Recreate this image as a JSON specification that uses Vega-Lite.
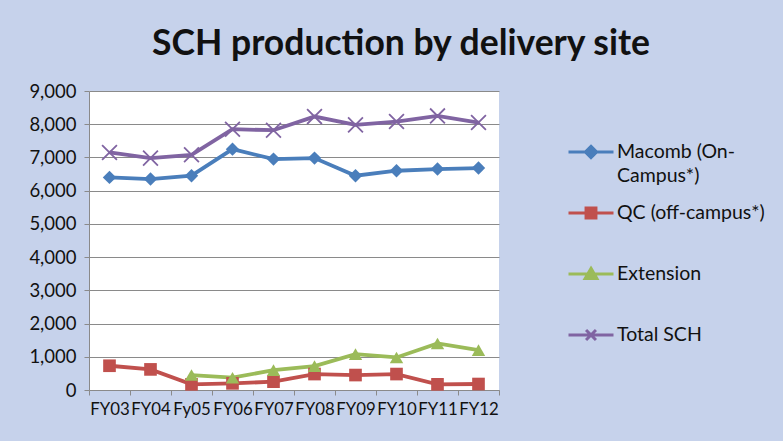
{
  "$schema": "https://vega.github.io/schema/vega-lite/v6.json",
  "width": 410,
  "height": 299,
  "autosize": {"type": "none"},
  "padding": {"left": 89, "top": 91, "right": 284, "bottom": 51},
  "background": "#c6d2eb",
  "config": {"view": {"fill": "white", "stroke": null}},
  "title": {"text": "SCH production by delivery site", "font": "Lato", "fontSize": 35.5, "fontWeight": "bold", "color": "#111111", "anchor": "middle", "dx": 107, "offset": 20},
  "data": {"values": [
    {"year": "FY03", "i": 1, "series": "Macomb (On-Campus*)", "value": 6400},
    {"year": "FY04", "i": 2, "series": "Macomb (On-Campus*)", "value": 6350},
    {"year": "Fy05", "i": 3, "series": "Macomb (On-Campus*)", "value": 6450},
    {"year": "FY06", "i": 4, "series": "Macomb (On-Campus*)", "value": 7250},
    {"year": "FY07", "i": 5, "series": "Macomb (On-Campus*)", "value": 6950},
    {"year": "FY08", "i": 6, "series": "Macomb (On-Campus*)", "value": 6980},
    {"year": "FY09", "i": 7, "series": "Macomb (On-Campus*)", "value": 6450},
    {"year": "FY10", "i": 8, "series": "Macomb (On-Campus*)", "value": 6600},
    {"year": "FY11", "i": 9, "series": "Macomb (On-Campus*)", "value": 6650},
    {"year": "FY12", "i": 10, "series": "Macomb (On-Campus*)", "value": 6680},
    {"year": "FY03", "i": 1, "series": "QC (off-campus*)", "value": 730},
    {"year": "FY04", "i": 2, "series": "QC (off-campus*)", "value": 620},
    {"year": "Fy05", "i": 3, "series": "QC (off-campus*)", "value": 170},
    {"year": "FY06", "i": 4, "series": "QC (off-campus*)", "value": 200},
    {"year": "FY07", "i": 5, "series": "QC (off-campus*)", "value": 250},
    {"year": "FY08", "i": 6, "series": "QC (off-campus*)", "value": 480},
    {"year": "FY09", "i": 7, "series": "QC (off-campus*)", "value": 450},
    {"year": "FY10", "i": 8, "series": "QC (off-campus*)", "value": 480},
    {"year": "FY11", "i": 9, "series": "QC (off-campus*)", "value": 170},
    {"year": "FY12", "i": 10, "series": "QC (off-campus*)", "value": 180},
    {"year": "Fy05", "i": 3, "series": "Extension", "value": 450},
    {"year": "FY06", "i": 4, "series": "Extension", "value": 370},
    {"year": "FY07", "i": 5, "series": "Extension", "value": 600},
    {"year": "FY08", "i": 6, "series": "Extension", "value": 720},
    {"year": "FY09", "i": 7, "series": "Extension", "value": 1080},
    {"year": "FY10", "i": 8, "series": "Extension", "value": 980},
    {"year": "FY11", "i": 9, "series": "Extension", "value": 1400},
    {"year": "FY12", "i": 10, "series": "Extension", "value": 1200},
    {"year": "FY03", "i": 1, "series": "Total SCH", "value": 7150},
    {"year": "FY04", "i": 2, "series": "Total SCH", "value": 6980},
    {"year": "Fy05", "i": 3, "series": "Total SCH", "value": 7080},
    {"year": "FY06", "i": 4, "series": "Total SCH", "value": 7850},
    {"year": "FY07", "i": 5, "series": "Total SCH", "value": 7820},
    {"year": "FY08", "i": 6, "series": "Total SCH", "value": 8230},
    {"year": "FY09", "i": 7, "series": "Total SCH", "value": 7980},
    {"year": "FY10", "i": 8, "series": "Total SCH", "value": 8080},
    {"year": "FY11", "i": 9, "series": "Total SCH", "value": 8250},
    {"year": "FY12", "i": 10, "series": "Total SCH", "value": 8050}
  ]},
  "encoding": {
    "x": {"field": "year", "type": "ordinal", "sort": ["FY03", "FY04", "Fy05", "FY06", "FY07", "FY08", "FY09", "FY10", "FY11", "FY12"],
      "scale": {"type": "band", "paddingInner": 0, "paddingOuter": 0},
      "axis": {"title": null, "labelAngle": 0, "tickBand": "extent", "grid": false, "labelOverlap": false, "labelBound": false, "labelFont": "Lato", "labelFontSize": 16.8, "labelColor": "#111111", "domainColor": "#8a8a8a", "tickColor": "#8a8a8a", "tickSize": 5, "labelPadding": 6}},
    "y": {"field": "value", "type": "quantitative",
      "scale": {"domain": [0, 9000], "nice": false},
      "axis": {"title": null, "values": [0, 1000, 2000, 3000, 4000, 5000, 6000, 7000, 8000, 9000], "format": ",.0f", "labelFont": "Lato", "labelFontSize": 18.5, "labelColor": "#111111", "gridColor": "#8a8a8a", "domainColor": "#8a8a8a", "tickColor": "#8a8a8a", "tickSize": 5, "labelPadding": 8}},
    "color": {"field": "series", "type": "nominal",
      "scale": {"domain": ["Macomb (On-Campus*)", "QC (off-campus*)", "Extension", "Total SCH"], "range": ["#4a7ebb", "#c0504d", "#9bbb59", "#8064a2"]},
      "legend": {"orient": "none", "legendX": 478, "legendY": 37, "title": null, "symbolSize": 2025, "symbolStrokeWidth": 3,
        "labelFont": "Lato", "labelFontSize": 19.5, "labelColor": "#111111", "labelOffset": 2, "labelLimit": 300, "rowPadding": 3,
        "labelExpr": "datum.label == 'Macomb (On-Campus*)' ? ['Macomb (On-', 'Campus*)'] : [datum.label, ' ']",
        "encode": {
          "labels": {"update": {"lineHeight": {"value": 24}}},
          "symbols": {"update": {
          "shape": {"signal": "datum.value == 'Macomb (On-Campus*)' ? 'M-1,0H1M0,-0.25L0.25,0L0,0.25L-0.25,0Z' : datum.value == 'QC (off-campus*)' ? 'M-1,0H1M-0.22,-0.22H0.22V0.22H-0.22Z' : datum.value == 'Extension' ? 'M-1,0H1M0,-0.25L0.26,0.2H-0.26Z' : 'M-1,0H1M-0.22,-0.22L0.22,0.22M-0.22,0.22L0.22,-0.22'"},
          "fill": {"signal": "scale('color', datum.value)"},
          "stroke": {"signal": "scale('color', datum.value)"}
        }}}}
    }
  },
  "layer": [
    {
      "mark": {"type": "line", "strokeWidth": 3.8},
      "encoding": {"order": {"field": "i", "type": "quantitative"}}
    },
    {
      "transform": [{"filter": "datum.series == 'Macomb (On-Campus*)'"}],
      "mark": {"type": "point", "filled": true, "shape": "diamond", "size": 180, "opacity": 1}
    },
    {
      "transform": [{"filter": "datum.series == 'QC (off-campus*)'"}],
      "mark": {"type": "point", "filled": true, "shape": "square", "size": 160, "opacity": 1}
    },
    {
      "transform": [{"filter": "datum.series == 'Extension'"}],
      "mark": {"type": "point", "filled": true, "shape": "triangle-up", "size": 180, "opacity": 1}
    },
    {
      "transform": [{"filter": "datum.series == 'Total SCH'"}],
      "mark": {"type": "point", "filled": false, "shape": "M-1,-1L1,1M-1,1L1,-1", "size": 220, "strokeWidth": 1.8, "opacity": 1}
    }
  ]
}
